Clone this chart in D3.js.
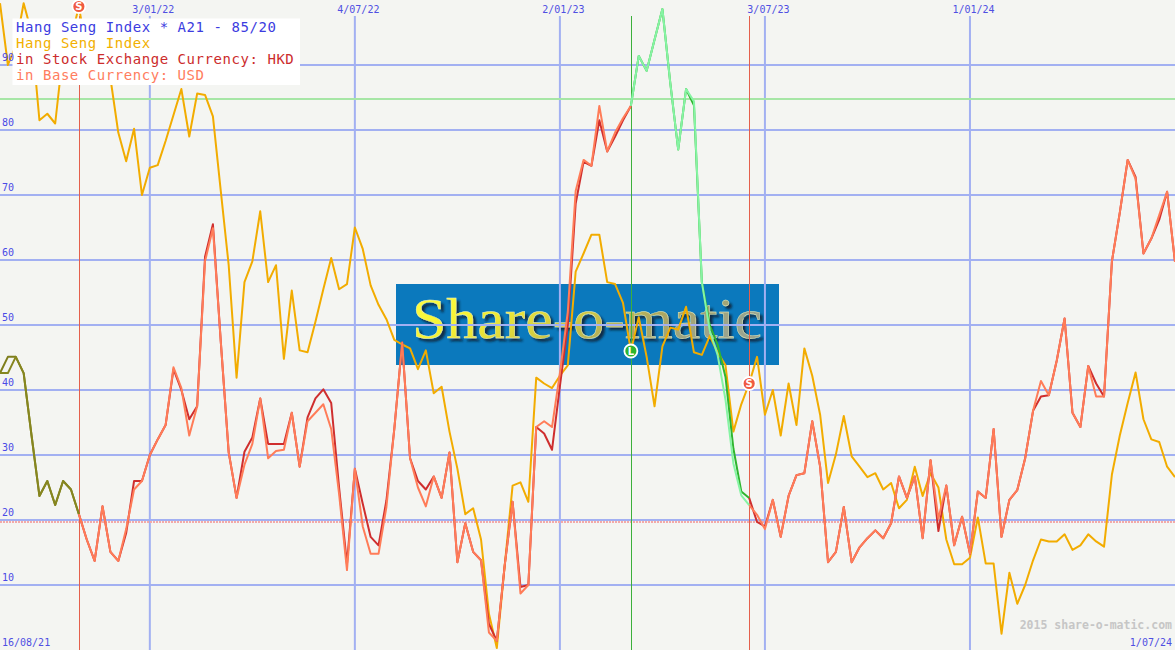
<!DOCTYPE html>
<html><head><meta charset="utf-8">
<script src="https://cdn.jsdelivr.net/npm/d3@7"></script>
<style>html,body{margin:0;padding:0;background:#f4f5f2;}svg{display:block}</style>
</head><body>
<svg id="c" width="1175" height="650"></svg>
<script>
// ---------------- DATA ----------------
const firstWeek = "2021-08-23";
const lastWeek = "2024-07-01";

const indexValues = [
 99.5,90,93,99.5,95,81.5,82.5,81,92,94,
 99,92,90,93,88,79.6,75.2,80.2,70,74.2,
 74.6,78.3,82.3,86.3,79,85.6,85.4,82.1,70.6,59.2,
 41.9,56.6,59.8,67.5,56.6,59.2,44.8,55.3,46.1,45.8,
 50.5,55.5,60.3,55.5,56.3,65,61.7,56.1,53.1,50.9,
 47.7,47,46.4,43.2,46.1,39.5,40.5,33.6,27.9,20.9,
 21.8,17,5.6,0.3,13,25.3,25.8,22.8,41.9,41,
 40.3,42.2,43.8,58.2,61,63.9,63.9,56.6,56.3,53.4,
 46,51.2,45.1,37.5,46.7,49.6,49.3,52.8,45.8,45.4,
 48.3,45.8,43.8,33.6,37.8,41,45.1,36.2,40,33,
 41,34.6,46.4,42.2,36.2,25.7,30.1,36,29.8,28.2,
 26.6,27.2,24.7,25.7,21.8,23.1,28.2,23.7,27.2,25,
 17,13.2,13.2,14.2,20.4,13.3,13.3,2.5,11.9,7.1,
 10,13.8,17,16.7,16.7,17.8,15.4,16.1,17.8,16.7,
 15.9,27,33,38,42.7,35.5,32.4,32,28.2,26.6];

const hkdValues = [
 42.6,45.1,45.1,42.6,33,23.7,26,22.3,26,24.7,
 20.9,17,13.7,22.1,15.1,13.7,18,26,26,30,
 32.4,34.6,43.2,40,35.5,37.5,60.5,65.5,47.4,30.4,
 23.4,30.5,32.7,38.7,31.7,31.7,31.7,36.5,28.2,35.8,
 38.7,40.1,38,25,13.2,27.9,22.5,17.4,16.1,23,
 34,47.3,29.5,26,24.7,26.7,23.4,30.4,13.5,19.5,
 15.1,13.8,4,1.4,13,22.8,9.7,10,34.3,33.3,
 30.8,40.6,50,68.7,75.1,74.5,81.5,76.7,79,81.5,
 83.7,91.4,89.1,93.9,98.6,87.2,77,86.3,83.8,56.6,
 50,47,42,31,24.4,23.4,19.7,19,23.1,17.4,
 23.7,26.9,27.2,35.2,28.2,13.5,15.1,22,13.5,15.8,
 17.2,18.4,17.2,19.5,26.7,23.4,26.7,17.2,29.2,18.3,
 25.3,16.1,20.5,14.8,24.4,23.4,34,17.4,23.1,24.6,
 29.5,36.8,39,39.2,44.5,51,36.5,34.3,43.7,41,
 39,59.8,67.3,75.4,72.8,61,63.3,66.2,70.5,59.7];

const usdValues = [
 42.6,42.6,45.1,42.6,33,23.7,26,22.3,26,24.7,
 20.9,17,13.7,22.1,15.1,13.7,18.6,24.7,26,30,
 32.4,34.6,43.5,40.3,33,37.5,59.8,64.9,47.4,30.4,
 23.4,28.5,31.7,38.7,29.5,30.6,30.8,36.5,28.2,35.2,
 36.5,37.8,34,24,12.3,27.9,19,14.8,14.8,22,
 34,47.3,29.5,25,22.1,26.7,23.4,30.4,13.5,19.5,
 15.1,13.8,2.7,1.4,13,22.8,8.7,10,34.3,35.2,
 34.3,42.6,52,70.6,75.4,74.5,83.7,76.7,79.6,81.8,
 83.7,91.4,89.1,93.9,98.6,87.2,77,86.3,84.4,56.6,
 49.2,45.4,38.5,28.7,23.8,22.3,20.8,18.6,23.1,17.4,
 23.7,26.9,27.2,35.2,28.2,13.5,15.1,22,13.5,15.8,
 17.2,18.4,17.2,19.5,26.7,23.4,26.7,17.2,29.2,20.2,
 25.3,16.1,20.5,14.8,24.4,23.4,34,17.4,23.1,24.6,
 29.5,36.8,41.4,39.2,44.5,51,36.5,34.3,43.7,39,
 39,59.8,67.3,75.4,72.5,61,63.3,66.9,70.5,59.7];

const yTicks = [10,20,30,40,50,60,70,80,90];
const dateTicks = ["2022-01-03","2022-07-04","2023-01-02","2023-07-03","2024-01-01"];
const dateTickLabels = ["3/01/22","4/07/22","2/01/23","3/07/23","1/01/24"];
const startLabel = "16/08/21";
const endLabel = "1/07/24";
const signalDates = ["2021-11-01","2023-03-06","2023-06-19"];
const signalTypes = ["S","L","S"];
const upperLevel = 85;
const lowerLevel = 20;
const legendLines = ["Hang Seng Index * A21 - 85/20","Hang Seng Index","in Stock Exchange Currency: HKD","in Base Currency: USD"];
const legendColors = ["#3c3ce0","#f2b000","#cc2c2c","#ff7d5e"];

// ---------------- CHART ----------------
const W = 1175, H = 650;
const svg = d3.select("#c");
const parse = d3.timeParse("%Y-%m-%d");
const weeks = d3.timeMonday.range(parse(firstWeek), d3.timeDay.offset(parse(lastWeek), 1));
const x = d3.scaleTime().domain([parse(firstWeek), parse(lastWeek)]).range([0, W]);
const y = d3.scaleLinear().domain([0, 100]).range([H, 0]);

const defs = svg.append("defs");
const grad = defs.append("linearGradient").attr("id","logoGrad").attr("x1","0").attr("x2","1").attr("y1","0").attr("y2","0.35");
[["0","#ffff46"],["0.3","#f6f232"],["0.55","#d2cc42"],["0.78","#aaa664"],["1","#9aa48e"]].forEach(s=>grad.append("stop").attr("offset",s[0]).attr("stop-color",s[1]));
const f = defs.append("filter").attr("id","shadow").attr("x","-5%").attr("y","-10%").attr("width","115%").attr("height","130%");
f.append("feGaussianBlur").attr("in","SourceAlpha").attr("stdDeviation",1.3).attr("result","b");
f.append("feOffset").attr("in","b").attr("dx",3).attr("dy",3).attr("result","o");
f.append("feFlood").attr("flood-color","#0e2236").attr("flood-opacity",0.85).attr("result","c");
f.append("feComposite").attr("in","c").attr("in2","o").attr("operator","in").attr("result","s");
const fm = f.append("feMerge");
fm.append("feMergeNode").attr("in","s");
fm.append("feMergeNode").attr("in","SourceGraphic");

svg.append("rect").attr("width",W).attr("height",H).attr("fill","#f4f5f2");

// logo
const logo = svg.append("g");
logo.append("rect").attr("x",396).attr("y",284).attr("width",383).attr("height",81).attr("fill","#0b79bd");
logo.append("text").attr("x",412).attr("y",338).attr("font-family","Liberation Serif").attr("font-size",58)
  .attr("textLength",350).attr("lengthAdjust","spacingAndGlyphs").attr("fill","url(#logoGrad)")
  .attr("stroke","#e8f0c0").attr("stroke-width",0.4).attr("filter","url(#shadow)").text("Share-o-matic");

// grid
const gridColor = "#a2b0f2";
svg.append("g").selectAll("line").data(yTicks).join("line")
  .attr("x1",0).attr("x2",W).attr("y1",d=>y(d)).attr("y2",d=>y(d))
  .attr("stroke",gridColor).attr("stroke-width",2);
svg.append("g").selectAll("line").data(dateTicks).join("line")
  .attr("x1",d=>x(parse(d))).attr("x2",d=>x(parse(d))).attr("y1",16).attr("y2",H)
  .attr("stroke",gridColor).attr("stroke-width",2);

// threshold levels
svg.append("line").attr("x1",0).attr("x2",W).attr("y1",y(upperLevel)).attr("y2",y(upperLevel))
  .attr("transform","translate(0,1.5)").attr("stroke","#a6e6a6").attr("stroke-width",2);
svg.append("line").attr("x1",0).attr("x2",W).attr("y1",y(lowerLevel)).attr("y2",y(lowerLevel))
  .attr("transform","translate(0,2)").attr("stroke","#f3a9a9").attr("stroke-width",2).attr("stroke-dasharray","2,1");

// signal lines
const sigIdx = signalDates.map(d => weeks.findIndex(w => +w === +parse(d)));
svg.append("g").selectAll("line").data(signalDates).join("line")
  .attr("x1",d=>Math.round(x(parse(d)))+0.5).attr("x2",d=>Math.round(x(parse(d)))+0.5).attr("y1",16).attr("y2",H)
  .attr("stroke",(d,i)=>signalTypes[i]==="L"?"#3cb03c":"#e4604c").attr("stroke-width",1);

// series
const line = d3.line().x(d=>x(d[0])).y(d=>y(d[1]));
const bounds = [0, ...sigIdx, weeks.length-1];
const states = ["pre", ...signalTypes];
function drawSeries(values, colors) {
  const g = svg.append("g").attr("fill","none").attr("stroke-width",2).attr("stroke-linejoin","round");
  for (let j = 0; j < bounds.length-1; j++) {
    const seg = d3.range(bounds[j], bounds[j+1]+1).map(i => [weeks[i], values[i]]);
    g.append("path").attr("d", line(seg)).attr("stroke", colors[states[j]]);
  }
}
drawSeries(indexValues, {pre:"#f2ac00",S:"#f2ac00",L:"#f2ac00"});
drawSeries(hkdValues, {pre:"#7e7e1c",S:"#cf2e2e",L:"#2fb52f"});
drawSeries(usdValues, {pre:"#86861f",S:"#ff7c58",L:"#86f4a4"});

// markers
const mk = svg.append("g");
sigIdx.forEach((k,i) => {
  const cx = x(weeks[k]), cy = y(indexValues[k]);
  mk.append("circle").attr("cx",cx).attr("cy",cy).attr("r",6.5)
    .attr("fill",signalTypes[i]==="L"?"#2db52d":"#f05a40").attr("stroke","#ffffff").attr("stroke-width",1.8);
  mk.append("text").attr("x",cx).attr("y",cy+3.5).attr("text-anchor","middle")
    .attr("font-family","DejaVu Sans").attr("font-size",10).attr("font-weight","bold").attr("fill","#ffffff").text(signalTypes[i]);
});

// legend
svg.append("rect").attr("x",12.5).attr("y",18.5).attr("width",287.5).attr("height",66.5).attr("fill","#ffffff");
svg.append("g").selectAll("text").data(legendLines).join("text")
  .attr("x",16).attr("y",(d,i)=>32+i*16).attr("font-family","DejaVu Sans Mono").attr("font-size",14)
  .attr("letter-spacing","0.55px").attr("fill",(d,i)=>legendColors[i]).text(d=>d);

// y labels
svg.append("g").selectAll("text").data(yTicks).join("text")
  .attr("x",2).attr("y",d=>y(d)-4).attr("font-family","DejaVu Sans Mono").attr("font-size",10)
  .attr("fill","#4a4ae6").text(d=>d);

// date labels
svg.append("g").selectAll("text").data(dateTicks).join("text")
  .attr("x",d=>x(parse(d))+3.5).attr("y",12.5).attr("text-anchor","middle").attr("font-family","DejaVu Sans Mono")
  .attr("font-size",10).attr("fill","#4f4fe2").text((d,i)=>dateTickLabels[i]);
svg.append("text").attr("x",2).attr("y",646).attr("font-family","DejaVu Sans Mono").attr("font-size",10)
  .attr("fill","#4f4fe2").text(startLabel);
svg.append("text").attr("x",1172).attr("y",646).attr("text-anchor","end").attr("font-family","DejaVu Sans Mono").attr("font-size",10)
  .attr("fill","#4f4fe2").text(endLabel);
svg.append("text").attr("x",1172).attr("y",629).attr("text-anchor","end").attr("font-family","DejaVu Sans Mono").attr("font-size",11.5)
  .attr("font-weight","bold").attr("fill","#c6c6c6").text("2015 share-o-matic.com");
</script>
</body></html>
